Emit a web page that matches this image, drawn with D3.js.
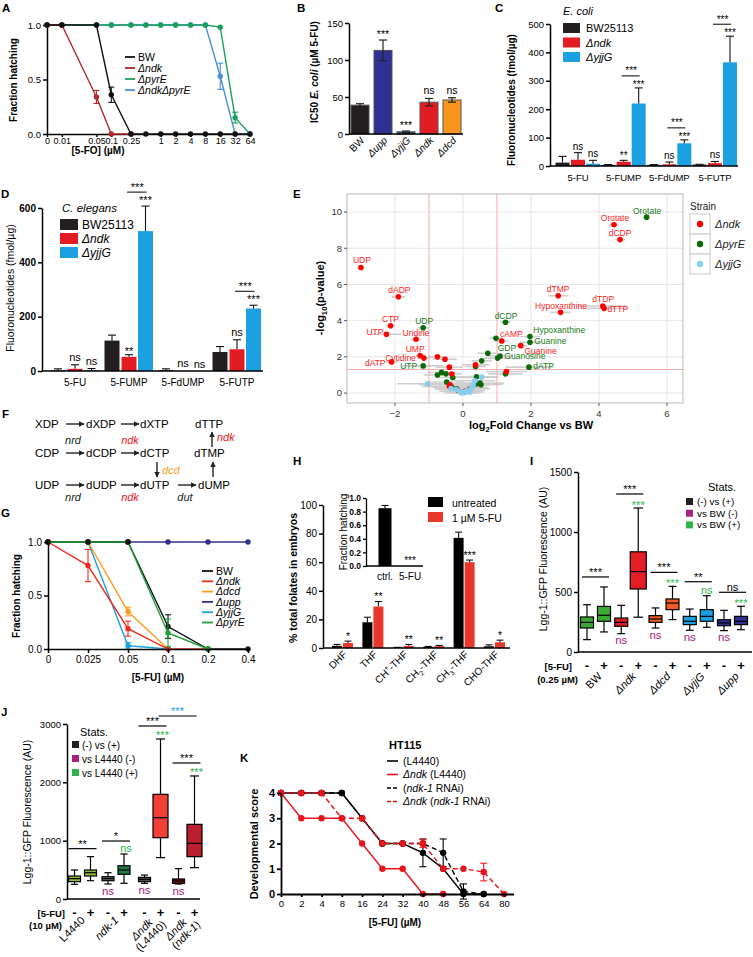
<!DOCTYPE html>
<html><head><meta charset="utf-8">
<script src="https://cdn.jsdelivr.net/npm/d3@7/dist/d3.min.js"></script>
<style>body{margin:0;background:#fff}svg{display:block}</style>
</head><body>
<svg id="fig" width="753" height="957" xmlns="http://www.w3.org/2000/svg"></svg>
<script>
// ================= DATA =================
// Panel A
const aDoses = [0,0.01,0.05,0.1,0.25,0.5,1,2,4,8,16,32,64];
const aTickValues = [0,0.01,0.05,0.1,0.25,1,2,4,8,16,32,64];
const aTickLabels = ["0","0.01","0.05","0.1","0.25","1","2","4","8","16","32","64"];
const aBW        = [1,1,1,0.36,0,0,0,0,0,0,0,0,0];
const aBWErr     = [0,0,0,0.07,0,0,0,0,0,0,0,0,0];
const aNdk       = [1,1,0.34,0,0,null,null,null,null,null,null,null,null];
const aNdkErr    = [0,0,0.06,0,0,0,0,0,0,0,0,0,0];
const aPyrE      = [1,1,1,1,1,1,1,1,1,1,0.98,0.15,0];
const aPyrEErr   = [0,0,0,0,0,0,0,0,0,0,0,0.05,0];
const aNdkPyrE   = [1,1,1,1,1,1,1,1,1,1,0.53,0,null];
const aNdkPyrEErr= [0,0,0,0,0,0,0,0,0,0,0.12,0,0];
// Panel B
const bLabels = ["BW","Δupp","ΔyjjG","Δndk","Δdcd"];
const bValues = [39,113,3,43,46];
const bErr    = [2,14,1,5,3];
const bSig    = ["","***","***","ns","ns"];
// Panel C (E. coli)
const cGroups = ["5-FU","5-FUMP","5-FdUMP","5-FUTP"];
const cStrains = ["BW25113","Δndk","ΔyjjG"];
const cBW = [12,4,4,5],     cBWErr = [22,1,1,1];
const cNdk = [22,15,6,10],  cNdkErr = [25,5,8,6];
const cYjjG = [8,220,80,365], cYjjGErr = [12,55,12,92];
const cSigNdk = ["ns","**","ns","ns"];
const cSigYjjG = ["ns","***","***","***"];
const cSigBracket = ["","***","***","***"];
// Panel D (C. elegans)
const dBW = [2,112,3,70],   dBWErr = [6,20,5,20];
const dNdk = [8,52,0,80],   dNdkErr = [15,8,0,35];
const dYjjG = [3,515,0,230], dYjjGErr = [6,92,0,12];
const dSigNdk = ["ns","**","ns","ns"];
const dSigYjjG = ["ns","***","ns","***"];
const dSigBracket = ["","***","","***"];
// Panel E volcano: [label, log2FC, -log10 p, xerr]
const eNdk = [
 ["UDP",-3.0,6.94,0],["dADP",-1.90,5.32,0.2],["CTP",-2.13,3.72,0.15],["UTP",-2.25,3.25,0.45],
 ["Uridine",-1.38,2.97,0.15],["UMP",-1.26,2.07,0.12],["Cytidine",-1.15,1.93,0.2],["dATP",-2.10,1.72,0.2],
 ["Orotate",4.44,9.30,0.15],["dCDP",4.62,8.48,0.15],["dTMP",2.80,5.38,0.3],["Hypoxanthine",2.87,4.46,0.3],
 ["dTDP",4.11,4.81,0.7],["dTTP",4.15,4.68,0.7],["cAMP",1.14,2.88,0.2],["Guanine",1.70,2.62,0.2],
 ["",-0.75,2.00,0.3],["",-0.53,1.87,0.35],["",-0.40,1.43,0.4],["",-0.33,1.05,0.3],["",-0.38,0.46,0.9],
 ["",1.28,1.19,0.6],["",0.37,1.56,0.4],["",0.20,0.24,0.6],["",-0.40,0.37,0.8],["",0.05,0.10,0.5],["",-0.15,0.15,0.4]
];
const ePyrE = [
 ["Orotate",5.40,9.72,0.1],["UDP",-1.17,3.61,0.15],["UTP",-1.17,1.50,0.6],["dCDP",1.25,3.91,0.15],
 ["Hypoxanthine",1.97,3.12,0.3],["Guanine",1.97,2.81,0.3],["GDP",1.09,2.05,0.4],["Guanosine",1.02,1.93,0.4],
 ["dATP",1.94,1.43,0.7],
 ["",0.97,3.03,0.2],["",0.73,2.20,0.3],["",0.55,1.78,0.3],["",0.37,1.47,0.3],["",1.25,1.06,0.5],
 ["",-0.75,1.00,0.4],["",-0.63,1.14,0.4],["",-0.50,1.06,0.3],["",-0.30,0.86,0.5],["",-0.48,0.61,0.5],
 ["",0.40,0.90,0.6],["",0.40,0.50,0.8],["",0.53,0.46,0.6],["",0.50,0.55,0.7],["",-0.33,0.33,0.6],["",-0.19,0.24,0.5]
];
const eYjjG = [
 ["",-1.04,0.51,0.9],["",0.55,0.88,0.5],["",0.35,0.68,0.6],["",-0.10,0.10,0.6],["",0.00,0.05,0.5],
 ["",0.05,0.02,0.4],["",0.15,0.15,0.5],["",0.25,0.30,0.5],["",-0.20,0.20,0.6],["",-0.35,0.25,0.5],
 ["",0.30,0.45,0.5],["",0.10,0.10,0.4],["",-0.05,0.00,0.5],["",0.20,0.05,0.4]
];
const eStrains = ["Δndk","ΔpyrE","ΔyjjG"];
// Panel F diagram
const fNodes = [["XDP",35,0],["dXDP",86,0],["dXTP",140,0],["dTTP",195,0],
 ["CDP",35,1],["dCDP",86,1],["dCTP",140,1],["dTMP",194,1],
 ["UDP",35,2],["dUDP",86,2],["dUTP",140,2],["dUMP",198,2]];
const fEnzymes = [["nrd",73,444,"k"],["ndk",130,444,"r"],["nrd",73,501,"k"],["ndk",130,501,"r"],
 ["dut",185,501,"k"],["dcd",162,474,"o"],["ndk",217,441,"r"]];
// Panel G
const gDoses = ["0","0.025","0.05","0.1","0.2","0.4"];
const gNames = ["BW","Δndk","Δdcd","Δupp","ΔyjjG","ΔpyrE"];
const gBW   = [1,1,1,0.21,0,0],        gBWErr   = [0,0,0,0.11,0,0];
const gNdk  = [1,0.78,0.19,0,0,null],  gNdkErr  = [0,0.15,0.07,0,0,0];
const gDcd  = [1,1,0.35,0,null,null],  gDcdErr  = [0,0,0.04,0,0,0];
const gUpp  = [1,1,1,1,1,1],           gUppErr  = [0,0,0,0,0,0];
const gYjjG = [1,1,0.03,0,null,null],  gYjjGErr = [0,0,0.03,0,0,0];
const gPyrE = [1,1,1,0.15,0,null],     gPyrEErr = [0,0,0,0.13,0,0];
// Panel H
const hCats = ["DHF","THF","CH+-THF","CH2-THF","CH3-THF","CHO-THF"];
const hUntreated = [1.5,18,0.3,0.8,77,1.2], hUntreatedErr = [1,3.5,0.2,0.3,4,1];
const hTreated   = [3.5,29,1.5,1.3,60,4],   hTreatedErr   = [1.3,3.5,1,0.5,1.5,1.5];
const hSig = ["*","**","**","**","***","*"];
const hInsetCats = ["ctrl.","5-FU"], hInsetVals = [0.85,0], hInsetErr = [0.04,0], hInsetSig = ["","***"];
// Panel I boxes [min,q1,median,q3,max], order: (-),(+) per strain
const iGroups = ["BW","Δndk","Δdcd","ΔyjjG","Δupp"];
const iBoxes = [[103,200,247,292,394],[167,256,306,380,542],[153,214,247,283,389],[290,525,670,835,1200],
 [200,247,275,303,367],[270,353,408,442,547],[181,228,256,297,358],[206,256,297,353,469],
 [178,219,242,269,347],[186,228,256,297,381]];
const iSigPair = ["***","***","***","**","ns"];
const iSigPlus = ["","***","***","ns","***"];
const iSigMinus = ["","ns","ns","ns","ns"];
const iStats = ["(-) vs (+)","vs BW (-)","vs BW (+)"];
// Panel J
const jGroups = [["L4440"],["ndk-1"],["Δndk","(L4440)"],["Δndk","(ndk-1)"]];
const jBoxes = [[251,297,349,394,497],[314,394,451,497,726],[257,314,349,383,451],[269,423,497,571,771],
 [269,297,337,371,411],[709,1051,1394,1794,2743],[257,269,309,343,520],[537,726,954,1280,2109]];
const jSigPair = ["**","*","***","***"];
const jSigPlus = ["","ns","***","***"];
const jSigMinus = ["","ns","ns","ns"];
const jSigBlue = "***";
const jStats = ["(-) vs (+)","vs L4440 (-)","vs L4440 (+)"];
// Panel K
const kDoses = ["0","2","4","8","16","24","32","40","48","56","64","80"];
const kL4440    = [4,4,4,4,3,2,2,1.63,1,0,0,null], kL4440Err = [0,0,0,0,0,0,0,0.55,0,0,0,0];
const kRNAi     = [4,4,4,4,3,2,2,2,1.63,0.1,0,null], kRNAiErr = [0,0,0,0,0,0,0,0,0.55,0.3,0,0];
const kNdkL4440 = [4,3,3,3,2,1,1,0,0,null,null,null], kNdkL4440Err = [0,0,0,0,0,0,0,0,0,0,0,0];
const kNdkRNAi  = [4,4,4,3,3,2,2,2,1,1,0.87,0], kNdkRNAiErr = [0,0,0,0,0,0,0,0.15,0,0,0.35,0];

// ================= HELPERS =================
const FONT = "'Liberation Sans', Arial, Helvetica, sans-serif";
const svg = d3.select("#fig").attr("font-family", FONT);
svg.append("rect").attr("width",753).attr("height",957).attr("fill","#fff");
const defs = svg.append("defs");
defs.append("marker").attr("id","ah").attr("viewBox","0 0 10 10").attr("refX",9).attr("refY",5)
  .attr("markerWidth",4).attr("markerHeight",4).attr("orient","auto")
  .append("path").attr("d","M0,0L10,5L0,10z").attr("fill","#222");

function T(g, x, y, s, o={}) {
  const fs = o.fs || 10;
  const t = g.append("text").attr("x",x).attr("y",y).attr("font-size",fs)
    .attr("text-anchor", o.anchor || "start").attr("fill", o.fill || "#000");
  if (o.bold) t.attr("font-weight","bold");
  if (o.italic) t.attr("font-style","italic");
  if (o.rotate != null) t.attr("transform", `rotate(${o.rotate},${x},${y})`);
  if (Array.isArray(s)) {
    let shift = 0;
    s.forEach(p => {
      const st = p[1] || "";
      const ts = t.append("tspan").text(p[0]);
      let target = 0;
      if (st.includes("sub")) { target = fs*0.3; ts.attr("font-size", fs*0.7); }
      if (st.includes("sup")) { target = -fs*0.4; ts.attr("font-size", fs*0.7); }
      if (target !== shift) { ts.attr("dy", target - shift); shift = target; }
      if (st.includes("it")) ts.attr("font-style","italic");
    });
  } else t.text(s);
  return t;
}
function geneParts(s) {
  if (s.startsWith("Δ")) return [["Δ","it"],[s.slice(1),"it"]];
  return [[s,""]];
}
function label(g, s, x, y) { T(g, x, y, s, {fs:11.5, bold:true}); }
function styleAxis(a, o={}) {
  a.attr("font-family", FONT);
  a.selectAll("path.domain").attr("stroke", o.color||"#000").attr("stroke-width", o.w||1.3);
  a.selectAll(".tick line").attr("stroke", o.color||"#000").attr("stroke-width", o.w||1.3);
  a.selectAll(".tick text").attr("font-size", o.fs||9.5).attr("fill", o.tcolor||"#000")
    .attr("font-weight", o.bold ? "bold" : "normal");
}
function yAxis(g, x0, scale, ticks, fmt, o={}) {
  const a = g.append("g").attr("transform",`translate(${x0},0)`)
    .call(d3.axisLeft(scale).tickValues(ticks).tickFormat(fmt).tickSize(o.ts||4).tickSizeOuter(0).tickPadding(o.pad||2));
  styleAxis(a, o); return a;
}
function hline(g, x1, x2, y, w=1.3, c="#000") {
  return g.append("line").attr("x1",x1).attr("x2",x2).attr("y1",y).attr("y2",y).attr("stroke",c).attr("stroke-width",w);
}
function vline(g, x, y1, y2, w=1.3, c="#000") {
  return g.append("line").attr("x1",x).attr("x2",x).attr("y1",y1).attr("y2",y2).attr("stroke",c).attr("stroke-width",w);
}
function errBar(g, x, yTop, yBot, cap, c, w=1.1) {
  vline(g, x, yTop, yBot, w, c);
  hline(g, x-cap/2, x+cap/2, yTop, w, c);
  hline(g, x-cap/2, x+cap/2, yBot, w, c);
}
function boxplot(g, cx, w, st, y, color) {
  const [lo,q1,med,q3,hi] = st;
  vline(g, cx, y(lo), y(q1), 1.2);
  vline(g, cx, y(q3), y(hi), 1.2);
  hline(g, cx-w*0.3, cx+w*0.3, y(lo), 1.2);
  hline(g, cx-w*0.3, cx+w*0.3, y(hi), 1.2);
  g.append("rect").attr("x",cx-w/2).attr("y",y(q3)).attr("width",w).attr("height",y(q1)-y(q3))
    .attr("fill",color).attr("stroke","#000").attr("stroke-width",1.2);
  hline(g, cx-w/2, cx+w/2, y(med), 1.2);
}
function lineSeries(g, xs, vals, errs, X, Y, color, o={}) {
  const pts = xs.map((d,i)=>({d, v:vals[i], e:errs ? errs[i] : 0})).filter(p=>p.v!=null);
  const path = g.append("path").datum(pts).attr("d", d3.line().x(p=>X(p.d)).y(p=>Y(p.v)))
    .attr("fill","none").attr("stroke",color).attr("stroke-width",o.w||1.4);
  if (o.dash) path.attr("stroke-dasharray", o.dash);
  pts.forEach(p => {
    if (p.e) errBar(g, X(p.d), Y(p.v+p.e), Y(p.v-p.e), o.cap||6, color, 1.1);
    g.append("circle").attr("cx",X(p.d)).attr("cy",Y(p.v)).attr("r",o.r||2.7).attr("fill",color);
  });
}

// ================= PANEL A =================
{
  const g = svg.append("g");
  label(g,"A",2,12);
  const xs = d3.scaleLog().domain([0.005,64]).range([47,250]);
  const X = d => xs(d===0 ? 0.005 : d);
  const y = d3.scaleLinear().domain([0,1]).range([134,25]);
  yAxis(g,47,y,[0,0.5,1],d3.format(".1f"),{w:1.5,fs:9.5});
  const xa = g.append("g").attr("transform","translate(0,134)")
    .call(d3.axisBottom(xs).tickValues(aTickValues.map(v=>v===0?0.005:v)).tickFormat((d,i)=>aTickLabels[i])
    .tickSize(3).tickSizeOuter(0).tickPadding(1));
  styleAxis(xa,{w:1.5,fs:9});
  const ser = [
    {v:aNdkPyrE, e:aNdkPyrEErr, c:"#4a90d9"},
    {v:aPyrE, e:aPyrEErr, c:"#1aa05c"},
    {v:aNdk, e:aNdkErr, c:"#b3282d"},
    {v:aBW, e:aBWErr, c:"#111"}];
  ser.forEach(s => lineSeries(g, aDoses, s.v, s.e, X, y, s.c, {cap:6}));
  const leg = [["BW","#111"],["Δndk","#b3282d"],["ΔpyrE","#1aa05c"],["ΔndkΔpyrE","#4a90d9"]];
  leg.forEach((l,i) => {
    const yy = 57 + i*11;
    hline(g,125,135,yy,1.8,l[1]);
    T(g,138,yy+3.6, i===0 ? "BW" : [[l[0],"it"]], {fs:10.5});
  });
  T(g,17,80,"Fraction hatching",{fs:10,bold:true,anchor:"middle",rotate:-90});
  T(g,98,154,"[5-FO] (µM)",{fs:10,bold:true,anchor:"middle"});
}

// ================= PANEL B =================
{
  const g = svg.append("g");
  label(g,"B",297,12);
  const y = d3.scaleLinear().domain([0,150]).range([134,23]);
  const x = d3.scalePoint().domain(bLabels).range([360,452]);
  const colors = ["#231f20","#2e3192","#1c5a7a","#e31b23","#f7941d"];
  bLabels.forEach((l,i) => {
    const cx = x(l);
    g.append("rect").attr("x",cx-9).attr("y",y(bValues[i])).attr("width",18).attr("height",y(0)-y(bValues[i]))
      .attr("fill",colors[i]).attr("stroke","#555").attr("stroke-width",1);
    errBar(g, cx, y(bValues[i]+bErr[i]), y(bValues[i]-bErr[i]), 8, "#222", 1.2);
    if (bSig[i]) {
      const top = y(bValues[i]+bErr[i]);
      T(g, cx, bSig[i]==="ns" ? top-4 : top-2, bSig[i], {fs:10.5, anchor:"middle"});
    }
    T(g, cx+5, 141, l==="BW" ? "BW" : geneParts(l), {fs:10, anchor:"end", rotate:-45});
  });
  yAxis(g,349,y,[0,50,100,150],d3.format("d"),{w:1.5,fs:9.5});
  hline(g,349,463,134,1.5);
  T(g,318,72,[["IC50 ",""],["E. coli","it"],[" (µM 5-FU)",""]],{fs:10,bold:true,anchor:"middle",rotate:-90});
}

// ============ grouped bar helper for C & D ============
function groupedBars(g, y, gx, offs, bw, series, errs, colors) {
  cGroups.forEach((grp,gi) => {
    series.forEach((s,si) => {
      const cx = gx(grp) + offs[si];
      const v = s[gi];
      if (v > 0) g.append("rect").attr("x",cx-bw/2).attr("y",y(v)).attr("width",bw).attr("height",y(0)-y(v)).attr("fill",colors[si]);
      const e = errs[si][gi];
      if (e > 0) { vline(g,cx,y(v+e),y(v),1.1,"#111"); hline(g,cx-4,cx+4,y(v+e),1.1,"#111"); }
    });
  });
}

// ================= PANEL C =================
{
  const g = svg.append("g");
  label(g,"C",495,12);
  const y = d3.scaleLinear().domain([0,500]).range([166,24]);
  const gx = d3.scalePoint().domain(cGroups).range([578,715]);
  const offs = [-15.5,0,15];
  const colors = ["#231f20","#e31b23","#1ba1e2"];
  groupedBars(g,y,gx,offs,14,[cBW,cNdk,cYjjG],[cBWErr,cNdkErr,cYjjGErr],colors);
  yAxis(g,550,y,[0,100,200,300,400,500],d3.format("d"),{w:1.5,fs:9.5});
  hline(g,550,738,166,1.5);
  cGroups.forEach((grp,gi) => {
    T(g, gx(grp), 181, grp, {fs:9.5, anchor:"middle"});
    const tN = y(cNdk[gi]+cNdkErr[gi]), tY = y(cYjjG[gi]+cYjjGErr[gi]);
    const xn = gx(grp)+offs[1], xy = gx(grp)+offs[2];
    T(g, xn, cSigNdk[gi]==="ns" ? tN-3 : tN-1, cSigNdk[gi], {fs:10, anchor:"middle"});
    T(g, xy, cSigYjjG[gi]==="ns" ? tY-3.5 : tY, cSigYjjG[gi], {fs:10, anchor:"middle"});
    if (cSigBracket[gi]) {
      const ly = tY - 12;
      hline(g, xn-2, xy+1, ly, 1, "#000");
      T(g, (xn+xy)/2, ly-1.5, cSigBracket[gi], {fs:10, anchor:"middle"});
    }
  });
  T(g,563,15,"E. coli",{fs:11,italic:true});
  cStrains.forEach((s,i) => {
    g.append("rect").attr("x",563).attr("y",23+i*14.5).attr("width",17).attr("height",10).attr("fill",colors[i]);
    T(g,586,32+i*14.5, i===0 ? s : geneParts(s), {fs:11});
  });
  T(g,515,100,"Fluoronucleotides (fmol/µg)",{fs:10,bold:true,anchor:"middle",rotate:-90});
}

// ================= PANEL D =================
{
  const g = svg.append("g");
  label(g,"D",1,198);
  const y = d3.scaleLinear().domain([0,600]).range([371,208]);
  const gx = d3.scalePoint().domain(cGroups).range([75,237]);
  const offs = [-17,0,16.5];
  const colors = ["#231f20","#e31b23","#1ba1e2"];
  groupedBars(g,y,gx,offs,15,[dBW,dNdk,dYjjG],[dBWErr,dNdkErr,dYjjGErr],colors);
  yAxis(g,42,y,[0,200,400,600],d3.format("d"),{w:1.5,fs:10,bold:true});
  hline(g,42,263,371,1.5);
  cGroups.forEach((grp,gi) => {
    T(g, gx(grp), 386, grp, {fs:10, anchor:"middle"});
    const tN = y(dNdk[gi]+dNdkErr[gi]), tY = y(dYjjG[gi]+dYjjGErr[gi]);
    const xn = gx(grp)+offs[1], xy = gx(grp)+offs[2];
    T(g, xn, dSigNdk[gi]==="ns" ? tN-4 : tN, dSigNdk[gi], {fs:11, anchor:"middle"});
    T(g, xy, dSigYjjG[gi]==="ns" ? tY-3.5 : tY-2, dSigYjjG[gi], {fs:11, anchor:"middle"});
    if (dSigBracket[gi]) {
      const ly = tY - 14;
      hline(g, xn-2, xy+1, ly, 1, "#000");
      T(g, (xn+xy)/2, ly-1.5, dSigBracket[gi], {fs:11, anchor:"middle"});
    }
  });
  T(g,62,212,"C. elegans",{fs:11.5,italic:true});
  cStrains.forEach((s,i) => {
    g.append("rect").attr("x",60).attr("y",219+i*14).attr("width",18).attr("height",11).attr("fill",colors[i]);
    T(g,82,229+i*14, i===0 ? s : geneParts(s), {fs:12});
  });
  T(g,13.5,288,"Fluoronucleotides (fmol/µg)",{fs:10.5,anchor:"middle",rotate:-90});
}

// ================= PANEL E =================
{
  const g = svg.append("g");
  label(g,"E",293,198);
  const x = d3.scaleLinear().domain([-3.41,6.47]).range([347,683]);
  const y = d3.scaleLinear().domain([-0.55,11.0]).range([403,194]);
  const grid = "#e3e3e3";
  [-2,0,2,4,6].forEach(v => vline(g, x(v), 194, 403, 0.9, grid));
  [0,2,4,6,8,10].forEach(v => hline(g, 347, 683, y(v), 0.9, grid));
  const all = [[ePyrE,"#0b6b0b"],[eNdk,"#ff0000"],[eYjjG,"#87ceeb"]];
  all.forEach(([arr]) => arr.forEach(p => { if (p[3]) hline(g, x(p[1]-p[3]), x(p[1]+p[3]), y(p[2]), 1.6, "#cfcfcf"); }));
  vline(g, x(-1), 194, 403, 1.1, "#f7b0b0");
  vline(g, x(1), 194, 403, 1.1, "#f7b0b0");
  hline(g, 347, 683, y(1.3), 1.1, "#f7b0b0");
  all.forEach(([arr,c]) => arr.forEach(p => g.append("circle").attr("cx",x(p[1])).attr("cy",y(p[2])).attr("r",2.8).attr("fill",c)));
  const lab = {
    "r:UDP":[1,-4.5,"middle"],"r:dADP":[1,-4,"middle"],"r:CTP":[0,-4,"middle"],"r:UTP":[-3,0.5,"end"],
    "r:Uridine":[0,-3.5,"middle"],"r:UMP":[-5,-4,"middle"],"r:Cytidine":[-8,2.5,"end"],"r:dATP":[-6,4,"end"],
    "r:Orotate":[1,-3.8,"middle"],"r:dCDP":[0,-3.8,"middle"],"r:dTMP":[0,-3.8,"middle"],"r:Hypoxanthine":[0.5,-3.8,"middle"],
    "r:dTDP":[0.5,-4,"middle"],"r:dTTP":[3.3,3.3,"start"],"r:cAMP":[-1.7,-3.5,"start"],"r:Guanine":[3.7,8,"start"],
    "g:Orotate":[0.5,-3,"middle"],"g:UDP":[1,-3.5,"middle"],"g:UTP":[-6,3,"end"],"g:dCDP":[0.5,-2.8,"middle"],
    "g:Hypoxanthine":[3.3,-3.3,"start"],"g:Guanine":[4.3,1.5,"start"],"g:GDP":[-2.3,-4.5,"start"],
    "g:Guanosine":[6.7,1.2,"start"],"g:dATP":[4.3,1.5,"start"]};
  [[eNdk,"r","#ff1a1a"],[ePyrE,"g","#1a7a1a"]].forEach(([arr,k,c]) => arr.forEach(p => {
    const o = lab[k+":"+p[0]];
    if (p[0] && o) T(g, x(p[1])+o[0], y(p[2])+o[1], p[0], {fs:8.5, anchor:o[2], fill:c});
  }));
  g.append("rect").attr("x",347).attr("y",194).attr("width",336).attr("height",209).attr("fill","none").attr("stroke","#b8b8b8").attr("stroke-width",1);
  [-2,0,2,4,6].forEach(v => { vline(g,x(v),403,406,1,"#555"); T(g,x(v),417,v<0?"−"+Math.abs(v):String(v),{fs:9.5,anchor:"middle",fill:"#333"}); });
  [0,2,4,6,8,10].forEach(v => { hline(g,344,347,y(v),1,"#555"); T(g,342,y(v)+3.4,String(v),{fs:9.5,anchor:"end",fill:"#333"}); });
  T(g,531,429,[["log",""],["2","sub"],["Fold Change vs BW",""]],{fs:11,bold:true,anchor:"middle"});
  T(g,324,298,[["-log",""],["10","sub"],["(p-value)",""]],{fs:11,bold:true,anchor:"middle",rotate:-90});
  T(g,690,210,"Strain",{fs:10,fill:"#222"});
  const lc = ["#ff0000","#0b6b0b","#87ceeb"];
  eStrains.forEach((s,i) => {
    g.append("rect").attr("x",690).attr("y",214+i*20).attr("width",20).attr("height",20).attr("fill","#fff").attr("stroke","#c8c8c8");
    g.append("circle").attr("cx",700).attr("cy",224+i*20).attr("r",3.2).attr("fill",lc[i]);
    T(g,715,228+i*20,geneParts(s),{fs:11,fill:"#222"});
  });
}

// ================= PANEL F =================
{
  const g = svg.append("g");
  label(g,"F",2,418);
  const rowY = [428,457,489];
  fNodes.forEach(n => T(g, n[1], rowY[n[2]], n[0], {fs:11.5}));
  const arr = (x1,y1,x2,y2) => g.append("line").attr("x1",x1).attr("y1",y1).attr("x2",x2).attr("y2",y2)
     .attr("stroke","#222").attr("stroke-width",1.4).attr("marker-end","url(#ah)");
  [0,1,2].forEach(r => { arr(66,rowY[r]-4,84,rowY[r]-4); arr(121,rowY[r]-4,139,rowY[r]-4); });
  arr(178,rowY[2]-4,196,rowY[2]-4);
  arr(157,462,157,477);
  arr(213,477,213,462);
  arr(212,447,212,432);
  const ec = {k:"#222", r:"#e8141c", o:"#f7a21b"};
  fEnzymes.forEach(e => T(g, e[1], e[2], e[0], {fs:11, italic:true, fill:ec[e[3]], anchor: e[3]==="o"||e[1]===217 ? "start":"middle"}));
}

// ================= PANEL G =================
{
  const g = svg.append("g");
  label(g,"G",1,517);
  const x = d3.scalePoint().domain(gDoses).range([48,248]);
  const y = d3.scaleLinear().domain([0,1]).range([649,542]);
  const cols = {BW:"#111","Δndk":"#f5291c","Δdcd":"#ff9a1a","Δupp":"#2e3192","ΔyjjG":"#1ba1e2","ΔpyrE":"#1f9e3a"};
  const data = {BW:[gBW,gBWErr],"Δndk":[gNdk,gNdkErr],"Δdcd":[gDcd,gDcdErr],"Δupp":[gUpp,gUppErr],"ΔyjjG":[gYjjG,gYjjGErr],"ΔpyrE":[gPyrE,gPyrEErr]};
  ["Δupp","ΔyjjG","Δdcd","Δndk","BW","ΔpyrE"].forEach(n => lineSeries(g, gDoses, data[n][0], data[n][1], x, y, cols[n], {cap:6}));
  ["0","0.025","0.05"].forEach((d,i)=> g.append("circle").attr("cx",x(d)).attr("cy",y(gBW[i])).attr("r",2.7).attr("fill","#111"));
  yAxis(g,48,y,[0,0.5,1],d3.format(".1f"),{w:1.5,fs:10});
  const xa = g.append("g").attr("transform","translate(0,649)").call(d3.axisBottom(x).tickSize(4).tickSizeOuter(0).tickPadding(3));
  styleAxis(xa,{w:1.5,fs:10});
  gNames.forEach((n,i) => {
    const yy = 571 + i*10.3;
    hline(g,202,213,yy,1.8,cols[n]);
    T(g,216,yy+3.6, n==="BW" ? "BW" : geneParts(n), {fs:10.5});
  });
  T(g,20,596,"Fraction hatching",{fs:10,bold:true,anchor:"middle",rotate:-90});
  T(g,158,681,"[5-FU] (µM)",{fs:10,bold:true,anchor:"middle"});
}

// ================= PANEL H =================
{
  const g = svg.append("g");
  label(g,"H",293,465);
  const y = d3.scaleLinear().domain([0,100]).range([648,505]);
  const x = d3.scalePoint().domain(hCats).range([342.5,494.5]);
  hCats.forEach((c,i) => {
    const xb = x(c)-5.5, xr = x(c)+5.5;
    [[xb,hUntreated[i],hUntreatedErr[i],"#000"],[xr,hTreated[i],hTreatedErr[i],"#e8382b"]].forEach(([cx,v,e,col]) => {
      g.append("rect").attr("x",cx-5).attr("y",y(v)).attr("width",10).attr("height",y(0)-y(v)).attr("fill",col);
      vline(g,cx,y(v+e),y(v),1.1,"#111"); hline(g,cx-3.5,cx+3.5,y(v+e),1.1,"#111");
    });
    T(g, xr, y(hTreated[i]+hTreatedErr[i])-1.5, hSig[i], {fs:10.5, anchor:"middle"});
    let parts;
    if (c==="CH+-THF") parts=[["CH",""],["+","sup"],["-THF",""]];
    else if (c==="CH2-THF") parts=[["CH",""],["2","sub"],["-THF",""]];
    else if (c==="CH3-THF") parts=[["CH",""],["3","sub"],["-THF",""]];
    else parts=[[c,""]];
    T(g, x(c)+5, 655, parts, {fs:10, anchor:"end", rotate:-45});
  });
  yAxis(g,323,y,[0,20,40,60,80,100],d3.format("d"),{w:1.5,fs:10});
  hline(g,323,510,648,1.5);
  T(g,297,578,"% total folates in embryos",{fs:10.5,bold:true,anchor:"middle",rotate:-90});
  g.append("rect").attr("x",428).attr("y",497).attr("width",15).attr("height",10).attr("fill","#000");
  T(g,452,507,"untreated",{fs:10.5});
  g.append("rect").attr("x",428).attr("y",512).attr("width",15).attr("height",10).attr("fill","#e8382b");
  T(g,452,522,"1 µM 5-FU",{fs:10.5});
  const yi = d3.scaleLinear().domain([0,1]).range([566,498]);
  const xi = d3.scalePoint().domain(hInsetCats).range([385,410]);
  hInsetCats.forEach((c,i) => {
    const v = hInsetVals[i];
    if (v>0) {
      g.append("rect").attr("x",xi(c)-6.5).attr("y",yi(v)).attr("width",13).attr("height",yi(0)-yi(v)).attr("fill","#000");
      vline(g,xi(c),yi(v+hInsetErr[i]),yi(v),1.1); hline(g,xi(c)-3.5,xi(c)+3.5,yi(v+hInsetErr[i]),1.1);
    }
    if (hInsetSig[i]) T(g, xi(c), 564, hInsetSig[i], {fs:10, anchor:"middle"});
    T(g, xi(c), 580, c, {fs:10, anchor:"middle"});
  });
  yAxis(g,366,yi,[0,0.2,0.4,0.6,0.8,1],d3.format(".1f"),{w:1.3,fs:8.5,bold:true,ts:3});
  hline(g,366,423,566,1.3);
  T(g,347,532,"Fraction hatching",{fs:10,anchor:"middle",rotate:-90});
}

// ================= PANEL I =================
{
  const g = svg.append("g");
  label(g,"I",530,465);
  const y = d3.scaleLinear().domain([0,1500]).range([652,472]);
  const gx = d3.scalePoint().domain(iGroups).range([595.5,732.5]);
  const colors = ["#3aaa35","#e31e24","#f15a24","#1ba1e2","#2e3192"];
  const purple = "#a6237e", green = "#2db34a";
  iGroups.forEach((grp,gi) => {
    const xm = gx(grp)-8.5, xp = gx(grp)+8.5;
    const bm = iBoxes[gi*2], bp = iBoxes[gi*2+1];
    boxplot(g, xm, 13, bm, y, colors[gi]);
    boxplot(g, xp, grp==="Δndk"?16:13, bp, y, colors[gi]);
    T(g, xm, 670, "-", {fs:13, bold:true, anchor:"middle"});
    T(g, xp, 670, "+", {fs:13, bold:true, anchor:"middle"});
    const hasG = !!iSigPlus[gi];
    const ly = y(Math.max(bm[4],bp[4])) - (hasG ? 14 : 10);
    hline(g, xm-5, xp+5, ly, 1.2);
    T(g, gx(grp), ly-1, iSigPair[gi], {fs:11, anchor:"middle"});
    if (hasG) T(g, xp, y(bp[4]) - (iSigPlus[gi]==="ns" ? 1.5 : -0.5), iSigPlus[gi], {fs:11, anchor:"middle", fill:green});
    if (iSigMinus[gi]) T(g, xm, y(bm[0])+10.5, iSigMinus[gi], {fs:11.5, anchor:"middle", fill:purple});
    T(g, gx(grp)+7, 677, grp==="BW" ? "BW" : geneParts(grp), {fs:11, anchor:"end", rotate:-45});
  });
  yAxis(g,578,y,[0,500,1000,1500],d3.format("d"),{w:1.5,fs:10});
  hline(g,578,752,652,1.5);
  T(g,572,670,"[5-FU]",{fs:9.5,bold:true,anchor:"end"});
  T(g,578,683,"(0.25 µM)",{fs:9.5,bold:true,anchor:"end"});
  T(g,547,559,"Lgg-1::GFP Fluorescence (AU)",{fs:10.5,anchor:"middle",rotate:-90});
  T(g,708,491,"Stats.",{fs:11});
  const sc = ["#231f20",purple,green];
  iStats.forEach((s,i) => {
    g.append("rect").attr("x",686).attr("y",498+i*11.7).attr("width",7).attr("height",7).attr("fill",sc[i]);
    T(g,697,505+i*11.7,s,{fs:9.8});
  });
}

// ================= PANEL J =================
{
  const g = svg.append("g");
  label(g,"J",1,716);
  const y = d3.scaleLinear().domain([0,3000]).range([899,724]);
  const centers = [82.5,116,152.5,186.5];
  const colors = [["#8db83d","#8db83d"],["#6d6e71","#1e7b45"],["#4d4d4f","#ef4136"],["#7d1a1d","#bb1e2c"]];
  const purple = "#a6237e", green = "#2db34a";
  jGroups.forEach((grp,gi) => {
    const xm = centers[gi]-8, xp = centers[gi]+8;
    const bm = jBoxes[gi*2], bp = jBoxes[gi*2+1];
    boxplot(g, xm, 12, bm, y, colors[gi][0]);
    boxplot(g, xp, gi>=2?15:12, bp, y, colors[gi][1]);
    T(g, xm, 917, "-", {fs:13, bold:true, anchor:"middle"});
    T(g, xp, 917, "+", {fs:13, bold:true, anchor:"middle"});
    const hasG = !!jSigPlus[gi];
    const ly = y(Math.max(bm[4],bp[4])) - (hasG ? 13 : 8);
    hline(g, xm-6, xp+6, ly, 1.2);
    T(g, centers[gi], ly-1, jSigPair[gi], {fs:11, anchor:"middle"});
    if (hasG) T(g, xp+2, y(bp[4]) - (jSigPlus[gi]==="ns" ? 2 : -0.5), jSigPlus[gi], {fs:11, anchor:"middle", fill:green});
    if (jSigMinus[gi]) T(g, xm, y(bm[0])+11, jSigMinus[gi], {fs:11.5, anchor:"middle", fill:purple});
    const lg = g.append("g").attr("transform",`translate(${centers[gi]+3},921) rotate(-45)`);
    if (grp.length===1) {
      T(lg,0,0, grp[0]==="ndk-1" ? [["ndk-1","it"]] : grp[0], {fs:11, anchor:"end"});
    } else {
      T(lg,-3,0, geneParts(grp[0]), {fs:11, anchor:"end"});
      T(lg,5,11, grp[1]==="(ndk-1)" ? [["(",""],["ndk-1","it"],[")",""]] : grp[1], {fs:11, anchor:"end"});
    }
  });
  const bly = y(Math.max(jBoxes[5][4], jBoxes[7][4])) - 23;
  hline(g, centers[2]+8-2, centers[3]+8+2, bly, 1.2);
  T(g, (centers[2]+centers[3])/2+8, bly-1, jSigBlue, {fs:11, anchor:"middle", fill:"#1ba1e2"});
  yAxis(g,67,y,[0,1000,2000,3000],d3.format("d"),{w:1.5,fs:9.5});
  hline(g,67,200,899,1.5);
  T(g,65,917,"[5-FU]",{fs:9.5,bold:true,anchor:"end"});
  T(g,62,929,"(10 µM)",{fs:9.5,bold:true,anchor:"end"});
  T(g,31,812,"Lgg-1::GFP  Fluorescence (AU)",{fs:10.5,anchor:"middle",rotate:-90});
  T(g,80,736,"Stats.",{fs:11});
  const sc = ["#231f20",purple,green];
  jStats.forEach((s,i) => {
    g.append("rect").attr("x",72).attr("y",741+i*14).attr("width",7).attr("height",7).attr("fill",sc[i]);
    T(g,82,748.5+i*14,s,{fs:10});
  });
}

// ================= PANEL K =================
{
  const g = svg.append("g");
  label(g,"K",240,762);
  const x = d3.scalePoint().domain(kDoses).range([281,504]);
  const y = d3.scaleLinear().domain([0,4]).range([894,793]);
  const red = "#e8141c";
  lineSeries(g,kDoses,kL4440,kL4440Err,x,y,"#000",{r:3.2,cap:7});
  lineSeries(g,kDoses,kRNAi,kRNAiErr,x,y,"#000",{r:3.2,cap:7,dash:"5,3"});
  lineSeries(g,kDoses,kNdkL4440,kNdkL4440Err,x,y,red,{r:3.2,cap:7});
  lineSeries(g,kDoses,kNdkRNAi,kNdkRNAiErr,x,y,red,{r:3.2,cap:7,dash:"5,3"});
  yAxis(g,281,y,[0,1,2,3,4],d3.format("d"),{w:1.8,fs:11,bold:true});
  const xa = g.append("g").attr("transform","translate(0,894)").call(d3.axisBottom(x).tickSize(3).tickSizeOuter(0).tickPadding(3));
  xa.select("path.domain").attr("d","M281,0.5H514");
  styleAxis(xa,{w:1.8,fs:9.5});
  T(g,395,926,"[5-FU] (µM)",{fs:10,bold:true,anchor:"middle"});
  T(g,258,844,"Developmental score",{fs:11,bold:true,anchor:"middle",rotate:-90});
  T(g,389,749,"HT115",{fs:11,bold:true});
  const leg = [["#000","",[["(L4440)",""]]],[red,"",[["Δndk","it"],[" (L4440)",""]]],
               ["#000","4,2",[["(",""],["ndk-1","it"],[" RNAi)",""]]],[red,"4,2",[["Δndk","it"],[" (",""],["ndk-1","it"],[" RNAi)",""]]]];
  leg.forEach((l,i) => {
    const yy = 761 + i*13.5;
    const ln = g.append("line").attr("x1",387).attr("x2",398).attr("y1",yy).attr("y2",yy).attr("stroke",l[0]).attr("stroke-width",1.6);
    if (l[1]) ln.attr("stroke-dasharray",l[1]);
    T(g,403,yy+3.8,l[2],{fs:10.5});
  });
}
</script>
</body></html>
